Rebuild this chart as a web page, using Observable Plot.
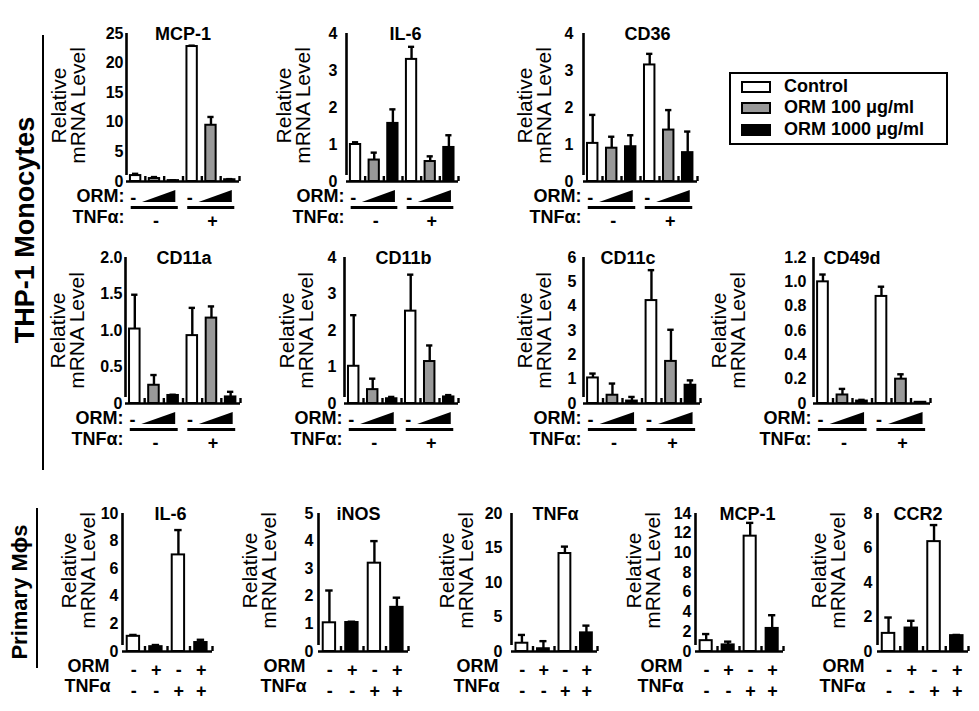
<!DOCTYPE html>
<html><head><meta charset="utf-8">
<script src="https://cdn.jsdelivr.net/npm/d3@7"></script>
<script src="https://cdn.jsdelivr.net/npm/@observablehq/plot@0.6"></script>
<style>
body{margin:0;background:#fff;}
#fig{position:relative;width:979px;height:711px;overflow:hidden;background:#fff;font-family:"Liberation Sans",Arial,sans-serif;}
.panel{position:absolute;}
.panel svg{max-width:none;overflow:visible;}
.rowlab{position:absolute;transform:translate(-50%,-50%) rotate(-90deg);white-space:nowrap;font-weight:bold;}
.vline{position:absolute;background:#000;}
</style></head><body><div id="fig"></div>
<script>
// ---------- data ----------
const thpConditions = ["Control","ORM 100 μg/ml","ORM 1000 μg/ml","Control","ORM 100 μg/ml","ORM 1000 μg/ml"];
const thpTnfGroups = ["-","+"];
const pmConditions = ["Control","ORM","Control","ORM"];
const pmOrmSigns = ["-","+","-","+"];
const pmTnfSigns = ["-","-","+","+"];
const legendLabels = ["Control","ORM 100 μg/ml","ORM 1000 μg/ml"];
const legendFills = ["#ffffff","#999999","#000000"];
const fillFor = {"Control":"#ffffff","ORM 100 μg/ml":"#999999","ORM 1000 μg/ml":"#000000","ORM":"#000000"};

// THP-1 monocytes
const mcp1Mean = [1.0, 0.5, 0.15, 22.8, 9.5, 0.3];
const mcp1Err  = [0.3, 0.25, 0.05, 0.15, 1.4, 0.1];
const mcp1Ticks = [0,5,10,15,20,25];
const mcp1TickLabels = ["0","5","10","15","20","25"];

const il6Mean = [1.0, 0.58, 1.57, 3.3, 0.54, 0.92];
const il6Err  = [0.06, 0.2, 0.38, 0.34, 0.14, 0.33];
const il6Ticks = [0,1,2,3,4];
const il6TickLabels = ["0","1","2","3","4"];

const cd36Mean = [1.03, 0.9, 0.94, 3.15, 1.39, 0.78];
const cd36Err  = [0.77, 0.31, 0.31, 0.3, 0.54, 0.57];
const cd36Ticks = [0,1,2,3,4];
const cd36TickLabels = ["0","1","2","3","4"];

const cd11aMean = [1.02, 0.25, 0.11, 0.93, 1.17, 0.09];
const cd11aErr  = [0.47, 0.14, 0.01, 0.38, 0.16, 0.07];
const cd11aTicks = [0,0.5,1,1.5,2];
const cd11aTickLabels = ["0","0.5","1.0","1.5","2.0"];

const cd11bMean = [1.02, 0.38, 0.13, 2.53, 1.15, 0.18];
const cd11bErr  = [1.4, 0.3, 0.05, 1.0, 0.44, 0.05];
const cd11bTicks = [0,1,2,3,4];
const cd11bTickLabels = ["0","1","2","3","4"];

const cd11cMean = [1.05, 0.34, 0.1, 4.23, 1.73, 0.75];
const cd11cErr  = [0.18, 0.48, 0.17, 1.25, 1.3, 0.2];
const cd11cTicks = [0,1,2,3,4,5,6];
const cd11cTickLabels = ["0","1","2","3","4","5","6"];

const cd49dMean = [1.0, 0.07, 0.02, 0.88, 0.2, 0.01];
const cd49dErr  = [0.06, 0.05, 0.01, 0.08, 0.04, 0];
const cd49dTicks = [0,0.2,0.4,0.6,0.8,1.0,1.2];
const cd49dTickLabels = ["0","0.2","0.4","0.6","0.8","1.0","1.2"];

// Primary macrophages
const pIl6Mean = [1.1, 0.35, 7.0, 0.65];
const pIl6Err  = [0.1, 0.12, 1.8, 0.2];
const pIl6Ticks = [0,2,4,6,8,10];
const pIl6TickLabels = ["0","2","4","6","8","10"];

const pInosMean = [1.04, 1.05, 3.2, 1.6];
const pInosErr  = [1.17, 0.03, 0.8, 0.35];
const pInosTicks = [0,1,2,3,4,5];
const pInosTickLabels = ["0","1","2","3","4","5"];

const pTnfMean = [1.2, 0.4, 14.2, 2.7];
const pTnfErr  = [1.2, 1.1, 1.0, 1.05];
const pTnfTicks = [0,5,10,15,20];
const pTnfTickLabels = ["0","5","10","15","20"];

const pMcp1Mean = [1.1, 0.67, 11.7, 2.34];
const pMcp1Err  = [0.67, 0.33, 1.35, 1.34];
const pMcp1Ticks = [0,2,4,6,8,10,12,14];
const pMcp1TickLabels = ["0","2","4","6","8","10","12","14"];

const pCcr2Mean = [1.05, 1.36, 6.37, 0.92];
const pCcr2Err  = [0.92, 0.42, 0.96, 0.04];
const pCcr2Ticks = [0,2,4,6,8];
const pCcr2TickLabels = ["0","2","4","6","8"];

// ---------- drawing ----------
const fig = document.getElementById("fig");
const FONT = '"Liberation Sans", Arial, sans-serif';

function drawPanel(p) {
  const n = p.mean.length;
  const mL = 110, mR = 10, mT = 40, mB = 62;
  const w = p.endX - p.axisX, h = p.baseY - p.topY;
  const yMax = p.ticks[p.ticks.length - 1];
  const rows = p.mean.map((v, i) => ({i, v, e: p.err[i], fill: fillFor[p.cond[i]]}));
  const withErr = rows.filter(d => d.e > 0);
  const fmt = new Map(p.ticks.map((t, i) => [t, p.tickLabels[i]]));
  const marks = [
    Plot.rect(rows, {x1: d => d.i + 0.21, x2: d => d.i + 0.76, y1: 0, y2: "v", fill: "fill", stroke: "#000", strokeWidth: 2}),
    Plot.ruleX(withErr, {x: d => d.i + 0.485, y1: "v", y2: d => d.v + d.e, strokeWidth: 2.4}),
    Plot.ruleY(withErr, {y: d => d.v + d.e, x1: d => d.i + 0.32, x2: d => d.i + 0.65, strokeWidth: 2.4}),
    Plot.ruleY([0], {x1: 0, x2: n, strokeWidth: 2.6}),
    Plot.ruleX([0], {y1: 0, y2: yMax, insetTop: -6, strokeWidth: 2.6}),
    Plot.tickX(d3.range(1, n + 1), {x: d => d, insetTop: h - 5, strokeWidth: 2.4}),
    Plot.text([p.title], {text: d => d, frameAnchor: "top", dx: p.titleDx, dy: -6, fontSize: 18, fontWeight: "bold"}),
    Plot.text(["Relative\nmRNA Level"], {text: d => d, frameAnchor: "left", textAnchor: "middle", lineAnchor: "middle", rotate: -90, dx: p.labelDx, dy: p.labelDy, fontSize: 21, fontWeight: "normal", lineHeight: 0.88})
  ];
  if (p.kind === "thp") {
    marks.push(
      Plot.text(["ORM:"], {text: d => d, frameAnchor: "bottom-left", dx: -2, dy: 20, textAnchor: "end", fontSize: 18}),
      Plot.text(["TNFα:"], {text: d => d, frameAnchor: "bottom-left", dx: -2, dy: 41, textAnchor: "end", fontSize: 18}),
      Plot.text(thpTnfGroups, {text: () => "-", x: (d, i) => 3 * i + 0.36, y: 0, dy: 17, fontSize: 18}),
      Plot.ruleY(thpTnfGroups, {y: 0, x1: (d, i) => 3 * i + 0.25, x2: (d, i) => 3 * i + 2.75, dy: 26, strokeWidth: 3}),
      Plot.text(thpTnfGroups, {text: d => d, x: (d, i) => 3 * i + 1.57, y: 0, dy: 40, fontSize: 18})
    );
  } else {
    marks.push(
      Plot.text(["ORM"], {text: d => d, frameAnchor: "bottom-left", dx: -13, dy: 20, textAnchor: "end", fontSize: 18}),
      Plot.text(["TNFα"], {text: d => d, frameAnchor: "bottom-left", dx: -12, dy: 40, textAnchor: "end", fontSize: 18}),
      Plot.text(pmOrmSigns, {text: d => d, x: (d, i) => i + 0.5, y: 0, dy: 19, fontSize: 18}),
      Plot.text(pmTnfSigns, {text: d => d, x: (d, i) => i + 0.5, y: 0, dy: 40, fontSize: 18})
    );
  }
  const svg = Plot.plot({
    width: mL + w + mR, height: mT + h + mB,
    marginLeft: mL, marginRight: mR, marginTop: mT, marginBottom: mB,
    x: {domain: [0, n], axis: null},
    y: {domain: [0, yMax], ticks: p.ticks, tickFormat: d => fmt.get(d), tickSize: 0, tickPadding: p.pad, label: null},
    color: {type: "identity"},
    style: `font-family: ${FONT}; font-size: 16px; font-weight: bold; background: transparent; overflow: visible; color: #000;`,
    marks
  });
  if (p.kind === "thp") {
    const sx = svg.scale("x"), sy = svg.scale("y");
    const y0 = sy.apply(0);
    d3.select(svg).append("g").selectAll("path").data(thpTnfGroups).join("path")
      .attr("fill", "#000")
      .attr("d", (d, i) => {
        const a = sx.apply(3 * i + 0.85), b = sx.apply(3 * i + 2.62);
        return `M${a},${y0 + 21}L${b},${y0 + 21}L${b},${y0 + 9}Z`;
      });
  }
  const div = document.createElement("div");
  div.className = "panel";
  div.style.left = (p.axisX - mL) + "px";
  div.style.top = (p.topY - mT) + "px";
  div.style.width = (mL + w + mR) + "px";
  div.appendChild(svg);
  fig.appendChild(div);
}

const T1 = 33, B1 = 181, T2 = 257, B2 = 403, T3 = 513, B3 = 651;
drawPanel({kind:"thp", title:"MCP-1", cond:thpConditions, mean:mcp1Mean, err:mcp1Err, ticks:mcp1Ticks, tickLabels:mcp1TickLabels, axisX:126, endX:239, topY:T1, baseY:B1, labelDx:-57, labelDy:-2, titleDx:0, pad:3});
drawPanel({kind:"thp", title:"IL-6", cond:thpConditions, mean:il6Mean, err:il6Err, ticks:il6Ticks, tickLabels:il6TickLabels, axisX:346, endX:458, topY:T1, baseY:B1, labelDx:-52, labelDy:-2, titleDx:3, pad:9});
drawPanel({kind:"thp", title:"CD36", cond:thpConditions, mean:cd36Mean, err:cd36Err, ticks:cd36Ticks, tickLabels:cd36TickLabels, axisX:583, endX:697, topY:T1, baseY:B1, labelDx:-48, labelDy:-2, titleDx:7, pad:10});
drawPanel({kind:"thp", title:"CD11a", cond:thpConditions, mean:cd11aMean, err:cd11aErr, ticks:cd11aTicks, tickLabels:cd11aTickLabels, axisX:125, endX:240, topY:T2, baseY:B2, labelDx:-57, labelDy:0, titleDx:1, pad:3});
drawPanel({kind:"thp", title:"CD11b", cond:thpConditions, mean:cd11bMean, err:cd11bErr, ticks:cd11bTicks, tickLabels:cd11bTickLabels, axisX:344, endX:458, topY:T2, baseY:B2, labelDx:-47, labelDy:0, titleDx:2, pad:8});
drawPanel({kind:"thp", title:"CD11c", cond:thpConditions, mean:cd11cMean, err:cd11cErr, ticks:cd11cTicks, tickLabels:cd11cTickLabels, axisX:583, endX:700, topY:T2, baseY:B2, labelDx:-48, labelDy:0, titleDx:-14, pad:7});
drawPanel({kind:"thp", title:"CD49d", cond:thpConditions, mean:cd49dMean, err:cd49dErr, ticks:cd49dTicks, tickLabels:cd49dTickLabels, axisX:813, endX:930, topY:T2, baseY:B2, labelDx:-84, labelDy:0, titleDx:-20, pad:7});

drawPanel({kind:"pm", title:"IL-6", cond:pmConditions, mean:pIl6Mean, err:pIl6Err, ticks:pIl6Ticks, tickLabels:pIl6TickLabels, axisX:122, endX:212, topY:T3, baseY:B3, labelDx:-43, labelDy:-12, titleDx:3, pad:4});
drawPanel({kind:"pm", title:"iNOS", cond:pmConditions, mean:pInosMean, err:pInosErr, ticks:pInosTicks, tickLabels:pInosTickLabels, axisX:318, endX:408, topY:T3, baseY:B3, labelDx:-58, labelDy:-12, titleDx:-5, pad:5});
drawPanel({kind:"pm", title:"TNFα", cond:pmConditions, mean:pTnfMean, err:pTnfErr, ticks:pTnfTicks, tickLabels:pTnfTickLabels, axisX:511, endX:597, topY:T3, baseY:B3, labelDx:-54, labelDy:-12, titleDx:1, pad:9});
drawPanel({kind:"pm", title:"MCP-1", cond:pmConditions, mean:pMcp1Mean, err:pMcp1Err, ticks:pMcp1Ticks, tickLabels:pMcp1TickLabels, axisX:695, endX:783, topY:T3, baseY:B3, labelDx:-51, labelDy:-12, titleDx:8, pad:4});
drawPanel({kind:"pm", title:"CCR2", cond:pmConditions, mean:pCcr2Mean, err:pCcr2Err, ticks:pCcr2Ticks, tickLabels:pCcr2TickLabels, axisX:877, endX:968, topY:T3, baseY:B3, labelDx:-48, labelDy:-12, titleDx:-5, pad:5});

// ---------- legend ----------
const box = document.createElement("div");
box.style.cssText = "position:absolute;left:729px;top:72px;width:219px;height:73px;border:2px solid #000;box-sizing:border-box;";
fig.appendChild(box);
const legendY = [87, 108, 130];
legendLabels.forEach((lab, i) => {
  const sw = document.createElement("div");
  sw.style.cssText = `position:absolute;left:741px;top:${legendY[i] - 6}px;width:30px;height:12px;border:2px solid #000;box-sizing:border-box;background:${legendFills[i]};`;
  fig.appendChild(sw);
  const tx = document.createElement("div");
  tx.textContent = lab;
  tx.style.cssText = `position:absolute;left:784px;top:${legendY[i] - 11}px;font-size:18px;font-weight:bold;line-height:20px;white-space:nowrap;`;
  fig.appendChild(tx);
});

// ---------- row labels ----------
function rowLabel(text, cx, cy, size) {
  const d = document.createElement("div");
  d.className = "rowlab";
  d.textContent = text;
  d.style.left = cx + "px"; d.style.top = cy + "px"; d.style.fontSize = size + "px";
  fig.appendChild(d);
}
function vline(x, y1, y2) {
  const d = document.createElement("div");
  d.className = "vline";
  d.style.left = (x - 1.25) + "px"; d.style.top = y1 + "px";
  d.style.width = "2.5px"; d.style.height = (y2 - y1) + "px";
  fig.appendChild(d);
}
rowLabel("THP-1 Monocytes", 25, 230, 27);
vline(43, 35, 470);
rowLabel("Primary Mϕs", 20, 592, 22);
vline(37, 508, 668);
</script></body></html>
